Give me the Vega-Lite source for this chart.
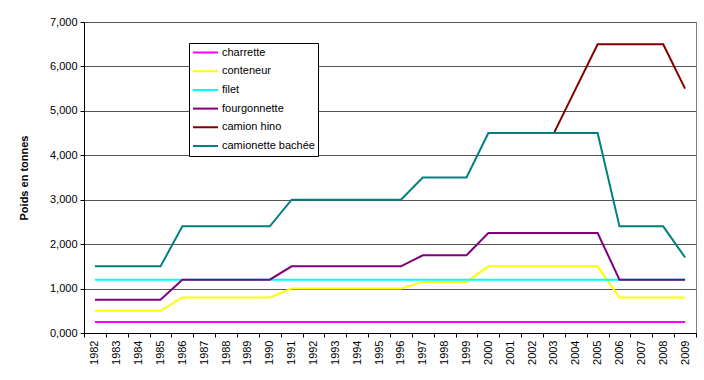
{
  "$schema": "https://vega.github.io/schema/vega-lite/v6.json",
  "width": 612,
  "height": 311,
  "autosize": "none",
  "padding": {"left": 84, "top": 22, "right": 8, "bottom": 47},
  "background": "white",
  "config": {
    "font": "Liberation Sans",
    "view": {"stroke": "#808080", "strokeWidth": 1},
    "axis": {
      "labelColor": "black",
      "titleColor": "black",
      "domainColor": "black",
      "tickColor": "black",
      "labelFont": "Liberation Sans",
      "titleFont": "Liberation Sans"
    }
  },
  "data": {
    "values": [
      {"annee": "1982", "type": "charrette", "poids": 0.25},
      {"annee": "1983", "type": "charrette", "poids": 0.25},
      {"annee": "1984", "type": "charrette", "poids": 0.25},
      {"annee": "1985", "type": "charrette", "poids": 0.25},
      {"annee": "1986", "type": "charrette", "poids": 0.25},
      {"annee": "1987", "type": "charrette", "poids": 0.25},
      {"annee": "1988", "type": "charrette", "poids": 0.25},
      {"annee": "1989", "type": "charrette", "poids": 0.25},
      {"annee": "1990", "type": "charrette", "poids": 0.25},
      {"annee": "1991", "type": "charrette", "poids": 0.25},
      {"annee": "1992", "type": "charrette", "poids": 0.25},
      {"annee": "1993", "type": "charrette", "poids": 0.25},
      {"annee": "1994", "type": "charrette", "poids": 0.25},
      {"annee": "1995", "type": "charrette", "poids": 0.25},
      {"annee": "1996", "type": "charrette", "poids": 0.25},
      {"annee": "1997", "type": "charrette", "poids": 0.25},
      {"annee": "1998", "type": "charrette", "poids": 0.25},
      {"annee": "1999", "type": "charrette", "poids": 0.25},
      {"annee": "2000", "type": "charrette", "poids": 0.25},
      {"annee": "2001", "type": "charrette", "poids": 0.25},
      {"annee": "2002", "type": "charrette", "poids": 0.25},
      {"annee": "2003", "type": "charrette", "poids": 0.25},
      {"annee": "2004", "type": "charrette", "poids": 0.25},
      {"annee": "2005", "type": "charrette", "poids": 0.25},
      {"annee": "2006", "type": "charrette", "poids": 0.25},
      {"annee": "2007", "type": "charrette", "poids": 0.25},
      {"annee": "2008", "type": "charrette", "poids": 0.25},
      {"annee": "2009", "type": "charrette", "poids": 0.25},

      {"annee": "1982", "type": "conteneur", "poids": 0.5},
      {"annee": "1983", "type": "conteneur", "poids": 0.5},
      {"annee": "1984", "type": "conteneur", "poids": 0.5},
      {"annee": "1985", "type": "conteneur", "poids": 0.5},
      {"annee": "1986", "type": "conteneur", "poids": 0.8},
      {"annee": "1987", "type": "conteneur", "poids": 0.8},
      {"annee": "1988", "type": "conteneur", "poids": 0.8},
      {"annee": "1989", "type": "conteneur", "poids": 0.8},
      {"annee": "1990", "type": "conteneur", "poids": 0.8},
      {"annee": "1991", "type": "conteneur", "poids": 1.0},
      {"annee": "1992", "type": "conteneur", "poids": 1.0},
      {"annee": "1993", "type": "conteneur", "poids": 1.0},
      {"annee": "1994", "type": "conteneur", "poids": 1.0},
      {"annee": "1995", "type": "conteneur", "poids": 1.0},
      {"annee": "1996", "type": "conteneur", "poids": 1.0},
      {"annee": "1997", "type": "conteneur", "poids": 1.15},
      {"annee": "1998", "type": "conteneur", "poids": 1.15},
      {"annee": "1999", "type": "conteneur", "poids": 1.15},
      {"annee": "2000", "type": "conteneur", "poids": 1.5},
      {"annee": "2001", "type": "conteneur", "poids": 1.5},
      {"annee": "2002", "type": "conteneur", "poids": 1.5},
      {"annee": "2003", "type": "conteneur", "poids": 1.5},
      {"annee": "2004", "type": "conteneur", "poids": 1.5},
      {"annee": "2005", "type": "conteneur", "poids": 1.5},
      {"annee": "2006", "type": "conteneur", "poids": 0.8},
      {"annee": "2007", "type": "conteneur", "poids": 0.8},
      {"annee": "2008", "type": "conteneur", "poids": 0.8},
      {"annee": "2009", "type": "conteneur", "poids": 0.8},

      {"annee": "1982", "type": "filet", "poids": 1.2},
      {"annee": "1983", "type": "filet", "poids": 1.2},
      {"annee": "1984", "type": "filet", "poids": 1.2},
      {"annee": "1985", "type": "filet", "poids": 1.2},
      {"annee": "1986", "type": "filet", "poids": 1.2},
      {"annee": "1987", "type": "filet", "poids": 1.2},
      {"annee": "1988", "type": "filet", "poids": 1.2},
      {"annee": "1989", "type": "filet", "poids": 1.2},
      {"annee": "1990", "type": "filet", "poids": 1.2},
      {"annee": "1991", "type": "filet", "poids": 1.2},
      {"annee": "1992", "type": "filet", "poids": 1.2},
      {"annee": "1993", "type": "filet", "poids": 1.2},
      {"annee": "1994", "type": "filet", "poids": 1.2},
      {"annee": "1995", "type": "filet", "poids": 1.2},
      {"annee": "1996", "type": "filet", "poids": 1.2},
      {"annee": "1997", "type": "filet", "poids": 1.2},
      {"annee": "1998", "type": "filet", "poids": 1.2},
      {"annee": "1999", "type": "filet", "poids": 1.2},
      {"annee": "2000", "type": "filet", "poids": 1.2},
      {"annee": "2001", "type": "filet", "poids": 1.2},
      {"annee": "2002", "type": "filet", "poids": 1.2},
      {"annee": "2003", "type": "filet", "poids": 1.2},
      {"annee": "2004", "type": "filet", "poids": 1.2},
      {"annee": "2005", "type": "filet", "poids": 1.2},
      {"annee": "2006", "type": "filet", "poids": 1.2},
      {"annee": "2007", "type": "filet", "poids": 1.2},
      {"annee": "2008", "type": "filet", "poids": 1.2},
      {"annee": "2009", "type": "filet", "poids": 1.2},

      {"annee": "1982", "type": "fourgonnette", "poids": 0.75},
      {"annee": "1983", "type": "fourgonnette", "poids": 0.75},
      {"annee": "1984", "type": "fourgonnette", "poids": 0.75},
      {"annee": "1985", "type": "fourgonnette", "poids": 0.75},
      {"annee": "1986", "type": "fourgonnette", "poids": 1.2},
      {"annee": "1987", "type": "fourgonnette", "poids": 1.2},
      {"annee": "1988", "type": "fourgonnette", "poids": 1.2},
      {"annee": "1989", "type": "fourgonnette", "poids": 1.2},
      {"annee": "1990", "type": "fourgonnette", "poids": 1.2},
      {"annee": "1991", "type": "fourgonnette", "poids": 1.5},
      {"annee": "1992", "type": "fourgonnette", "poids": 1.5},
      {"annee": "1993", "type": "fourgonnette", "poids": 1.5},
      {"annee": "1994", "type": "fourgonnette", "poids": 1.5},
      {"annee": "1995", "type": "fourgonnette", "poids": 1.5},
      {"annee": "1996", "type": "fourgonnette", "poids": 1.5},
      {"annee": "1997", "type": "fourgonnette", "poids": 1.75},
      {"annee": "1998", "type": "fourgonnette", "poids": 1.75},
      {"annee": "1999", "type": "fourgonnette", "poids": 1.75},
      {"annee": "2000", "type": "fourgonnette", "poids": 2.25},
      {"annee": "2001", "type": "fourgonnette", "poids": 2.25},
      {"annee": "2002", "type": "fourgonnette", "poids": 2.25},
      {"annee": "2003", "type": "fourgonnette", "poids": 2.25},
      {"annee": "2004", "type": "fourgonnette", "poids": 2.25},
      {"annee": "2005", "type": "fourgonnette", "poids": 2.25},
      {"annee": "2006", "type": "fourgonnette", "poids": 1.2},
      {"annee": "2007", "type": "fourgonnette", "poids": 1.2},
      {"annee": "2008", "type": "fourgonnette", "poids": 1.2},
      {"annee": "2009", "type": "fourgonnette", "poids": 1.2},

      {"annee": "2003", "type": "camion hino", "poids": 4.5},
      {"annee": "2004", "type": "camion hino", "poids": 5.5},
      {"annee": "2005", "type": "camion hino", "poids": 6.5},
      {"annee": "2006", "type": "camion hino", "poids": 6.5},
      {"annee": "2007", "type": "camion hino", "poids": 6.5},
      {"annee": "2008", "type": "camion hino", "poids": 6.5},
      {"annee": "2009", "type": "camion hino", "poids": 5.5},

      {"annee": "1982", "type": "camionette bachée", "poids": 1.5},
      {"annee": "1983", "type": "camionette bachée", "poids": 1.5},
      {"annee": "1984", "type": "camionette bachée", "poids": 1.5},
      {"annee": "1985", "type": "camionette bachée", "poids": 1.5},
      {"annee": "1986", "type": "camionette bachée", "poids": 2.4},
      {"annee": "1987", "type": "camionette bachée", "poids": 2.4},
      {"annee": "1988", "type": "camionette bachée", "poids": 2.4},
      {"annee": "1989", "type": "camionette bachée", "poids": 2.4},
      {"annee": "1990", "type": "camionette bachée", "poids": 2.4},
      {"annee": "1991", "type": "camionette bachée", "poids": 3.0},
      {"annee": "1992", "type": "camionette bachée", "poids": 3.0},
      {"annee": "1993", "type": "camionette bachée", "poids": 3.0},
      {"annee": "1994", "type": "camionette bachée", "poids": 3.0},
      {"annee": "1995", "type": "camionette bachée", "poids": 3.0},
      {"annee": "1996", "type": "camionette bachée", "poids": 3.0},
      {"annee": "1997", "type": "camionette bachée", "poids": 3.5},
      {"annee": "1998", "type": "camionette bachée", "poids": 3.5},
      {"annee": "1999", "type": "camionette bachée", "poids": 3.5},
      {"annee": "2000", "type": "camionette bachée", "poids": 4.5},
      {"annee": "2001", "type": "camionette bachée", "poids": 4.5},
      {"annee": "2002", "type": "camionette bachée", "poids": 4.5},
      {"annee": "2003", "type": "camionette bachée", "poids": 4.5},
      {"annee": "2004", "type": "camionette bachée", "poids": 4.5},
      {"annee": "2005", "type": "camionette bachée", "poids": 4.5},
      {"annee": "2006", "type": "camionette bachée", "poids": 2.4},
      {"annee": "2007", "type": "camionette bachée", "poids": 2.4},
      {"annee": "2008", "type": "camionette bachée", "poids": 2.4},
      {"annee": "2009", "type": "camionette bachée", "poids": 1.7}
    ]
  },
  "mark": {"type": "line", "strokeWidth": 2, "strokeJoin": "miter"},
  "encoding": {
    "x": {
      "field": "annee",
      "type": "ordinal",
      "bandPosition": 0.5,
      "scale": {"type": "band", "paddingInner": 0, "paddingOuter": 0},
      "axis": {
        "title": null,
        "labelAngle": -90,
        "labelFontSize": 11,
        "labelPadding": 3,
        "tickBand": "extent",
        "tickSize": 4,
        "domainWidth": 1
      }
    },
    "y": {
      "field": "poids",
      "type": "quantitative",
      "scale": {"domain": [0, 7], "nice": false, "zero": true},
      "axis": {
        "title": "Poids en tonnes",
        "titleFontSize": 11,
        "titleFontWeight": "bold",
        "titlePadding": 20,
        "values": [0, 1, 2, 3, 4, 5, 6, 7],
        "labelExpr": "replace(format(datum.value, '.3f'), '.', ',')",
        "labelFontSize": 11,
        "labelPadding": 3,
        "tickSize": 4,
        "grid": true,
        "gridColor": "#555555",
        "gridWidth": 1
      }
    },
    "color": {
      "field": "type",
      "type": "nominal",
      "sort": ["charrette", "conteneur", "filet", "fourgonnette", "camion hino", "camionette bachée"],
      "scale": {
        "domain": ["charrette", "conteneur", "filet", "fourgonnette", "camion hino", "camionette bachée"],
        "range": ["#FF00FF", "#FFFF00", "#00FFFF", "#800080", "#800000", "#008080"]
      },
      "legend": {
        "title": null,
        "orient": "none",
        "legendX": 105,
        "legendY": 21,
        "symbolType": "stroke",
        "symbolSize": 625,
        "symbolStrokeWidth": 2,
        "clipHeight": 13,
        "rowPadding": 5.7,
        "labelFontSize": 11,
        "labelColor": "black",
        "labelOffset": 3,
        "padding": 3,
        "fillColor": "white",
        "strokeColor": "black"
      }
    }
  }
}
